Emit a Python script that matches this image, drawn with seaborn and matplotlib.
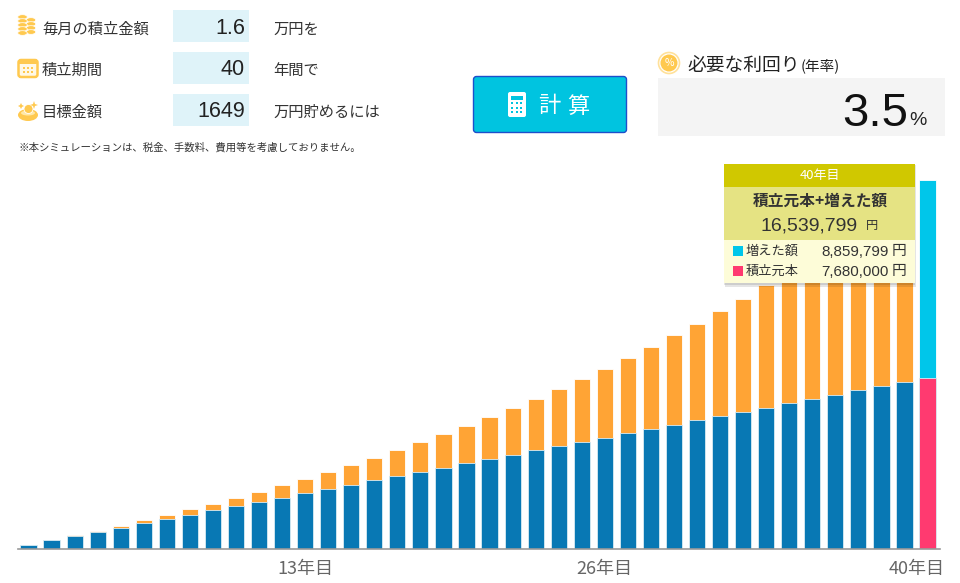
import matplotlib
matplotlib.use("Agg")
import matplotlib.pyplot as plt
from matplotlib.patches import Rectangle, FancyBboxPatch, Ellipse, Circle, Polygon
from matplotlib.transforms import ScaledTranslation
import pandas as pd
import seaborn as sns

years = list(range(1, 41))
principal = [19.2, 38.4, 57.6, 76.8, 96, 115.2, 134.4, 153.6, 172.8, 192,
             211.2, 230.4, 249.6, 268.8, 288, 307.2, 326.4, 345.6, 364.8, 384,
             403.2, 422.4, 441.6, 460.8, 480, 499.2, 518.4, 537.6, 556.8, 576,
             595.2, 614.4, 633.6, 652.8, 672, 691.2, 710.4, 729.6, 748.8, 768]
total = [19.6, 39.8, 60.8, 82.5, 104.9, 128.2, 152.2, 177.1, 203, 229.5,
         257, 286, 315, 346, 378, 410, 444, 479, 516, 553,
         592, 632, 674, 717, 762, 808, 856, 906, 957, 1010,
         1065, 1122, 1181, 1241, 1304, 1370, 1437, 1507, 1579, 1654]
tick_years = [13, 26, 40]
tick_labels = ["13年目", "26年目", "40年目"]

input_labels = ["毎月の積立金額", "積立期間", "目標金額"]
input_values = ["1.6", "40", "1649"]
input_units = ["万円を", "年間で", "万円貯めるには"]
note = "※本シミュレーションは、税金、手数料、費用等を考慮しておりません。"

C_BLUE, C_ORANGE, C_CYAN, C_PINK = "#0878B4", "#FFA435", "#00C6EA", "#FF3A70"
C_ICON = "#FFC94F"
LATIN = ["Liberation Sans", "DejaVu Sans"]

sns.set_theme(style="white")
plt.rcParams["font.family"] = ["Noto Sans CJK JP", "DejaVu Sans"]

df = pd.DataFrame({"year": years, "principal": principal, "total": total})
df["pos"] = df["year"].astype(str)

fig = plt.figure(figsize=(9.6, 5.83), dpi=100, facecolor="white")
W, H = 960, 583
ax = fig.add_axes([18 / W, 1 - 549 / H, (940 - 18) / W, (549 - 165) / H])

tot_colors = [C_CYAN if y == 40 else C_ORANGE for y in years]
pri_colors = [C_PINK if y == 40 else C_BLUE for y in years]
order = df["pos"].tolist()
sns.barplot(data=df, x="pos", y="total", order=order, hue="pos", hue_order=order,
            palette=tot_colors, legend=False, width=0.7, ax=ax,
            edgecolor="white", linewidth=0.6, saturation=1)
sns.barplot(data=df, x="pos", y="principal", order=order, hue="pos", hue_order=order,
            palette=pri_colors, legend=False, width=0.7, ax=ax,
            edgecolor="#D8ECF5", linewidth=0.6, saturation=1)
ax.set_xlim(-0.455, 39.54)
ax.set_ylim(0, 1721)
ax.set_xlabel("")
ax.set_ylabel("")
ax.set_yticks([])
ax.set_xticks([y - 1 for y in tick_years])
ax.set_xticklabels(tick_labels, fontsize=13, color="#666666")
ax.tick_params(axis="x", length=0, pad=8)
for s in ["top", "left", "right"]:
    ax.spines[s].set_visible(False)
ax.spines["bottom"].set_color("#999999")
ax.spines["bottom"].set_linewidth(1.2)
ax.patch.set_alpha(0)
# place the last tick label flush with the axis end, as in the reference
lab = ax.get_xticklabels()[-1]
lab.set_ha("right")
lab.set_transform(lab.get_transform() + ScaledTranslation(17 / 100, 0, fig.dpi_scale_trans))

ui = fig.add_axes([0, 0, 1, 1], zorder=5)
ui.set_xlim(0, W)
ui.set_ylim(H, 0)
ui.axis("off")
ui.patch.set_alpha(0)


def rect(x0, y0, x1, y1, color, **kw):
    ui.add_patch(Rectangle((x0, y0), x1 - x0, y1 - y0, facecolor=color, edgecolor="none", **kw))


def text(x, y, s, size, color="#333333", ha="left", **kw):
    ui.text(x, y + 2.5, s, fontsize=size, color=color, ha=ha, va="center", **kw)


def num(x, y, s, size, color="#333333", ha="left"):
    ui.text(x, y + 1.5, s, fontsize=size, color=color, ha=ha, va="center", family=LATIN)


# input rows
rows_y = [27, 68, 110]
boxes = [(10, 42), (52, 84), (94, 126)]
for i in range(3):
    text(42, rows_y[i], input_labels[i], 11)
    rect(173, boxes[i][0], 249, boxes[i][1], "#DFF3F9")
    num(245, rows_y[i], input_values[i], 15.5, ha="right", color="#222222")
    text(273, rows_y[i], input_units[i], 11)
text(18, 144.5, note, 7.5)

# coin stack icon
for cx, cy in [(31, 20), (31, 24), (31, 28), (31, 32), (22.5, 17), (22.5, 21), (22.5, 25), (22.5, 29), (22.5, 33)]:
    ui.add_patch(Ellipse((cx, cy), 9.5, 4.6, facecolor=C_ICON, edgecolor="white", linewidth=0.5))
# calendar icon
ui.add_patch(FancyBboxPatch((19.5, 61), 17, 15, boxstyle="round,pad=1,rounding_size=2.5",
                            facecolor="#FFF8E6", edgecolor=C_ICON, linewidth=1.8))
rect(19, 60, 37, 64, C_ICON)
for xx in [24, 28, 32]:
    for yy in [68, 72]:
        rect(xx - 1, yy - 1, xx + 1, yy + 1, C_ICON)
# goal coin icon
ui.add_patch(Ellipse((28, 115), 20, 12, facecolor=C_ICON, edgecolor="none"))
ui.add_patch(Ellipse((28, 113), 14, 5, facecolor="#FFE8A8", edgecolor="none"))
ui.add_patch(Circle((28.5, 109), 4.5, facecolor=C_ICON, edgecolor="white", linewidth=0.6))
ui.add_patch(Polygon([(34, 101), (35, 104), (38, 105), (35, 106), (34, 109), (33, 106), (30, 105), (33, 104)],
                     facecolor=C_ICON, edgecolor="none"))
ui.add_patch(Polygon([(21, 103), (22, 105), (24, 106), (22, 107), (21, 109), (20, 107), (18, 106), (20, 105)],
                     facecolor=C_ICON, edgecolor="none"))

# button
ui.add_patch(FancyBboxPatch((475, 78), 150, 53, boxstyle="round,pad=1.5,rounding_size=3",
                            facecolor="#00C4E0", edgecolor="#1D4FCB", linewidth=1.0))
ui.add_patch(FancyBboxPatch((508.5, 92.5), 17, 24, boxstyle="round,pad=0.5,rounding_size=2",
                            facecolor="white", edgecolor="none"))
rect(511, 95.5, 523, 100, "#00C4E0")
for yy in [103, 107.5, 112]:
    for xx in [512, 516.5, 521]:
        rect(xx - 1, yy - 1, xx + 1.4, yy + 1.4, "#00C4E0")
text(538, 103.5, "計", 16, color="white")
text(567, 103.5, "算", 16, color="white")

# result
ui.add_patch(Circle((669, 63), 10.5, facecolor="white", edgecolor="#FFE19A", linewidth=1.2))
ui.add_patch(Circle((669, 63), 8.5, facecolor=C_ICON, edgecolor="none"))
ui.text(669, 63, "%", fontsize=7.5, color="white", ha="center", va="center")
text(687, 63, "必要な利回り", 13.5, color="#222222")
text(801, 63, "(年率)", 10.5, color="#222222")
rect(658, 78, 945, 136, "#F4F4F4")
num(908, 112, "3.5", 34, color="#111111", ha="right")
num(927, 119, "%", 14, color="#222222", ha="right")

# tooltip
rect(725, 165, 916, 287, "#000000", alpha=0.10)
rect(724, 164, 915, 285, "#000000", alpha=0.10)
rect(724, 164, 915, 187, "#D0C800")
rect(724, 187, 915, 240, "#E5E383")
rect(724, 240, 915, 283, "#FDFCD8")
text(819.5, 173.5, "40年目", 9.4, color="white", ha="center")
text(820, 198.5, "積立元本+増えた額", 11.3, color="#333333", ha="center", fontweight="bold")
num(761, 224.5, "16,539,799", 14, color="#333333")
text(866, 223.5, "円", 8.8, color="#333333")
rect(733, 246, 743, 256, C_CYAN)
text(746, 249, "増えた額", 9.5, color="#333333")
num(889, 250.5, "8,859,799", 10.9, color="#333333", ha="right")
text(892, 249, "円", 10.6, color="#333333")
rect(733, 266, 743, 276, C_PINK)
text(746, 269, "積立元本", 9.5, color="#333333")
num(889, 270.5, "7,680,000", 10.9, color="#333333", ha="right")
text(892, 269, "円", 10.6, color="#333333")

fig.savefig("out.png", dpi=100, facecolor="white")
